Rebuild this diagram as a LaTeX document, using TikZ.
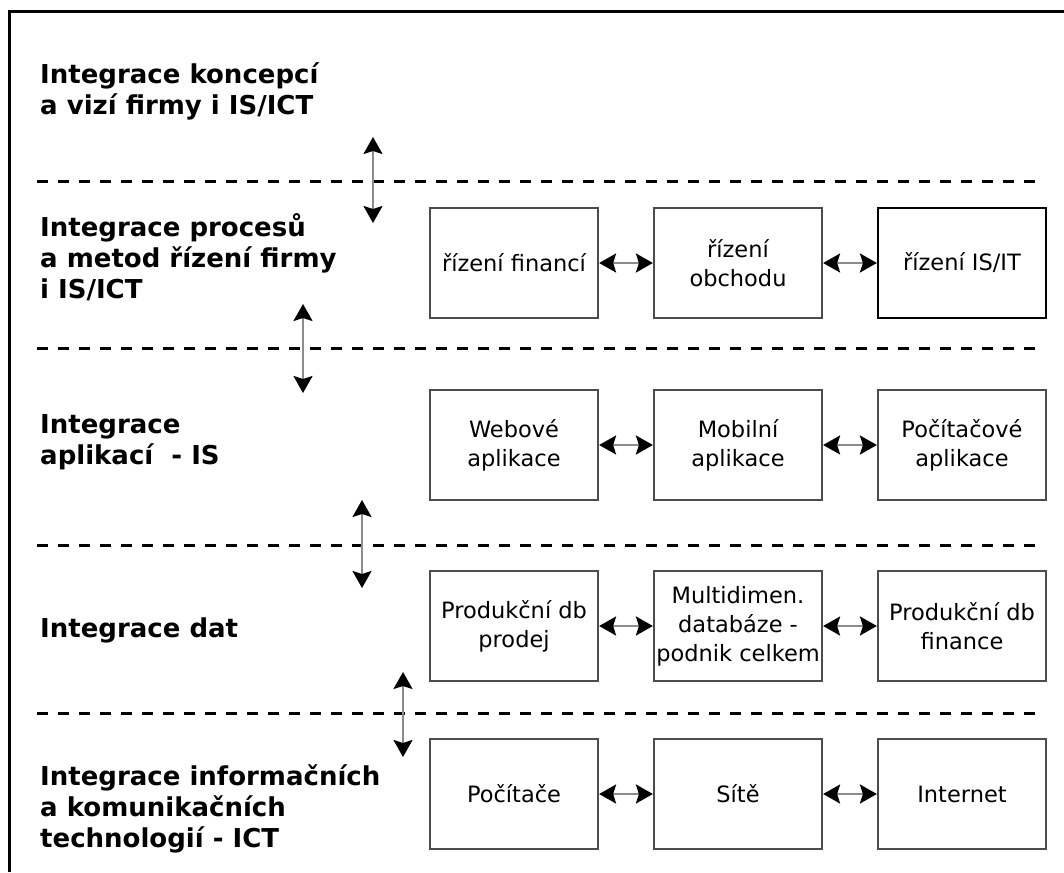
\documentclass[tikz,border=0pt]{standalone}
\usepackage{fontspec}
\setmainfont{DejaVu Sans}
\usetikzlibrary{arrows.meta}
\tikzstyle{blok} = [rectangle, minimum width=168pt, minimum height=110pt, text centered, align=center, draw=black!70, line width=2.2pt, inner sep=2pt, font=\fontsize{22.5}{29}\selectfont]
\tikzstyle{vrstva} = [anchor=base west, align=left, inner sep=0pt, font=\fontsize{26}{31}\selectfont\bfseries]
\tikzstyle{sipka} = [draw=black!45, line width=2.4pt, {Stealth[length=17pt,width=19pt,inset=3pt,color=black]}-{Stealth[length=17pt,width=19pt,inset=3pt,color=black]}]
\tikzstyle{hranice} = [dash pattern=on 11pt off 10pt, line width=3pt]

\begin{document}
\begin{tikzpicture}[x=1pt, y=-1pt, node distance=224pt]
\useasboundingbox (0,0) rectangle (1064,872);

% Frame
\draw[line width=3pt] (9,872) -- (9,12) -- (1064,12);

% Layer borders
\foreach \y in {181, 348, 545, 713}
  \draw[hranice] (37,\y) -- (1042,\y);

% Layer labels (anchored at the last line)
\node (lkoncepce) [vrstva] at (40,114) {Integrace koncepcí\\a vizí firmy i IS/ICT};
\node (lprocesy) [vrstva] at (40,298) {Integrace procesů\\a metod řízení firmy\\i IS/ICT};
\node (laplikace) [vrstva] at (40,464) {Integrace\\aplikací \ - IS};
\node (ldata) [vrstva] at (40,637) {Integrace dat};
\node (lict) [vrstva] at (40,847) {Integrace informačních\\a komunikačních\\technologií - ICT};

% Nodes
\node (financ) [blok] at (514,263) {řízení financí};
\node (obchod) [blok, right of=financ] {řízení\\obchodu};
\node (isit) [blok, right of=obchod, draw=black] {řízení IS/IT};

\node (web) [blok] at (514,445) {Webové\\aplikace};
\node (mobil) [blok, right of=web] {Mobilní\\aplikace};
\node (pocapl) [blok, right of=mobil] {Počítačové\\aplikace};

\node (dbprodej) [blok] at (514,626) {Produkční db\\prodej};
\node (multidim) [blok, right of=dbprodej] {Multidimen.\\databáze -\\podnik celkem};
\node (dbfin) [blok, right of=multidim] {Produkční db\\finance};

\node (pocitace) [blok] at (514,794) {Počítače};
\node (site) [blok, right of=pocitace] {Sítě};
\node (internet) [blok, right of=site] {Internet};

% Arrows
\draw [sipka] (financ) -- (obchod);
\draw [sipka] (obchod) -- (isit);
\draw [sipka] (web) -- (mobil);
\draw [sipka] (mobil) -- (pocapl);
\draw [sipka] (dbprodej) -- (multidim);
\draw [sipka] (multidim) -- (dbfin);
\draw [sipka] (pocitace) -- (site);
\draw [sipka] (site) -- (internet);

% Arrows between layers
\coordinate (v1a) at (373,137);
\coordinate (v1b) at (373,223);
\coordinate (v2a) at (303,304);
\coordinate (v2b) at (303,393);
\coordinate (v3a) at (362,500);
\coordinate (v3b) at (362,588);
\coordinate (v4a) at (403,672);
\coordinate (v4b) at (403,757);
\draw [sipka] (v1a) -- (v1b);
\draw [sipka] (v2a) -- (v2b);
\draw [sipka] (v3a) -- (v3b);
\draw [sipka] (v4a) -- (v4b);

\end{tikzpicture}
\end{document}
